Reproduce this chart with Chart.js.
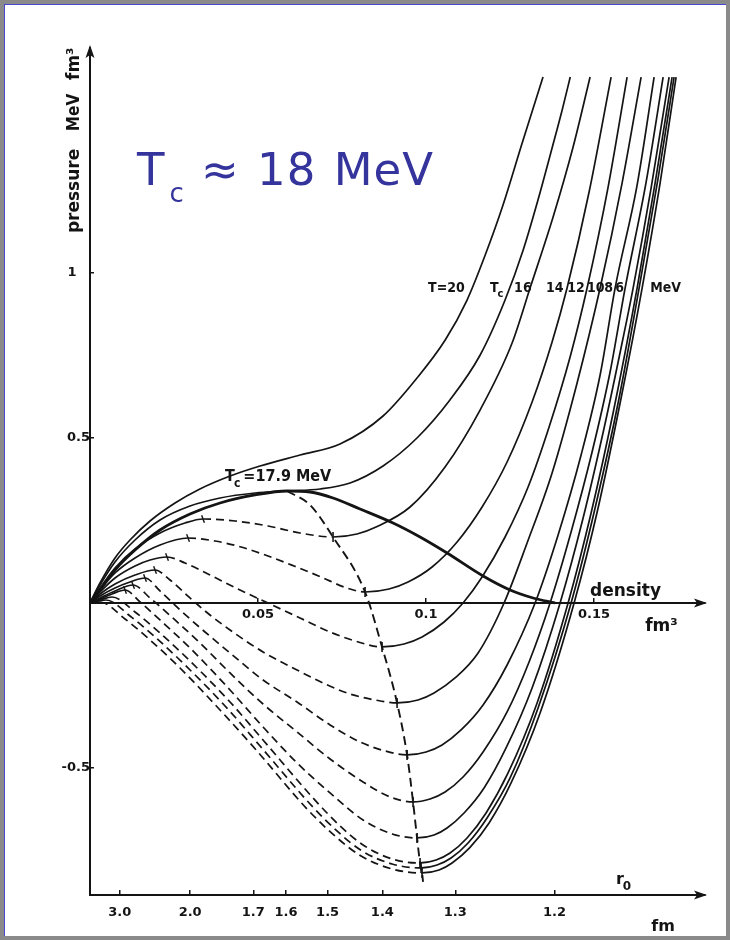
<!DOCTYPE html>
<html>
<head>
<meta charset="utf-8">
<title>Nuclear matter isotherms</title>
<script src="https://cdn.jsdelivr.net/npm/chart.js@4.4.1/dist/chart.umd.min.js"></script>
<style>
  html, body { margin: 0; padding: 0; background: #ffffff; }
  #frame { position: relative; width: 730px; height: 940px; background: #8a8a8a; overflow: hidden; }
  #sheet { position: absolute; left: 4px; top: 4px; width: 721px; height: 931px; background: #ffffff;
           border-left: 1px solid #4646d2; border-top: 1px solid #4646d2; }
  #plot { position: absolute; left: 0; top: 0; }
  #headline { position: absolute; left: 137px; top: 147px; font-family: "DejaVu Sans", Verdana, sans-serif;
              font-size: 45px; line-height: 45px; color: #34349c; white-space: nowrap;
              letter-spacing: 1px; word-spacing: 2px; }
  #headline .sub { font-size: 26px; position: relative; top: 17px; margin-left: 4px; letter-spacing: 0; }
</style>
</head>
<body>
<div id="frame">
  <div id="sheet"></div>
  <canvas id="plot" width="730" height="940"></canvas>
  <div id="headline">T<span class="sub">c</span> ≈ 18 MeV</div>
</div>
<script>
// ---- axis ticks -------------------------------------------------------
const densityTicks = [0.05, 0.1, 0.15];
const densityTickText = ['0.05', '0.1', '0.15'];
const pressureTicks = [-0.5, 0.5, 1];
const pressureTickText = ['-0.5', '0.5', '1   '];
// secondary scale: mean interparticle radius r0 (fm) at the matching density
const r0Labels = ['3.0', '2.0', '1.7', '1.6', '1.5', '1.4', '1.3', '1.2'];
const r0Density = [0.00884, 0.0298, 0.0486, 0.0583, 0.0707, 0.0870, 0.1087, 0.1382];

// ---- isotherms: [density fm^-3, pressure MeV fm^-3] --------------------
const isoTemps = [20, 17.9, 16, 14, 12, 10, 8, 6, 4, 2, 1, 0];

const iso20 = [[0,0],[0.00298,0.0606],[0.00744,0.1364],[0.0119,0.1909],[0.01786,0.2485],[0.0253,0.3030],
  [0.0327,0.3455],[0.0417,0.3848],[0.0506,0.4152],[0.0625,0.4485],[0.0744,0.4818],[0.0872,0.5667],
  [0.0973,0.6818],[0.1057,0.7970],[0.1122,0.9182],[0.1176,1.0545],[0.1229,1.2061],[0.1286,1.3939],[0.1348,1.5939]];

const isoTc = [[0,0],[0.00298,0.0545],[0.00744,0.1242],[0.01339,0.1909],[0.02083,0.2515],[0.02976,0.2939],
  [0.03869,0.3182],[0.04911,0.3333],[0.05863,0.3394],[0.06845,0.3455],[0.07738,0.3636],[0.0872,0.4152],
  [0.0973,0.5],[0.1071,0.6152],[0.1161,0.7515],[0.12351,0.9182],[0.1289,1.0697],[0.1333,1.2212],
  [0.1375,1.3788],[0.1405,1.4939],[0.1429,1.5939]];

const iso16 = [[0,0],[0.00298,0.0455],[0.00744,0.1061],[0.01339,0.1636],[0.02083,0.2121],[0.02827,0.2424],
  [0.03363,0.2545],[0.04315,0.2485],[0.05298,0.2333],[0.0625,0.2121],[0.07232,0.2],
  [0.07946,0.2091],[0.08512,0.2303],[0.09524,0.2909],[0.10565,0.4121],[0.11607,0.5848],[0.1256,0.7879],
  [0.13095,0.9545],[0.1378,1.1697],[0.14375,1.3818],[0.14881,1.5939]];

const iso14 = [[0,0],[0.00298,0.0394],[0.00744,0.0909],[0.01339,0.1364],[0.02083,0.1758],[0.02917,0.1970],
  [0.0372,0.1879],[0.04494,0.1697],[0.05298,0.1424],[0.06071,0.1121],[0.06875,0.0788],[0.0756,0.0485],
  [0.08185,0.0333],[0.08899,0.0424],[0.09464,0.0636],[0.10179,0.1091],[0.10923,0.1848],[0.11667,0.2909],
  [0.12411,0.4273],[0.13155,0.6091],[0.1375,0.7909],[0.14196,0.9545],[0.14851,1.2455],[0.15506,1.5939]];

const iso12 = [[0,0],[0.00298,0.0333],[0.00744,0.0758],[0.01339,0.1121],[0.01786,0.1303],[0.02292,0.1394],
  [0.02827,0.1212],[0.03571,0.0848],[0.04464,0.0394],[0.05357,-0.003],[0.0625,-0.0455],[0.07143,-0.0879],
  [0.07887,-0.1152],[0.0869,-0.1333],[0.09345,-0.1242],[0.09881,-0.1030],[0.10536,-0.0576],[0.11101,0],
  [0.11667,0.0788],[0.12351,0.2],[0.13036,0.3515],[0.13661,0.5333],[0.14286,0.7455],[0.14792,0.9545],
  [0.15417,1.2606],[0.15982,1.5939]];

const iso10 = [[0,0],[0.00298,0.0273],[0.00744,0.0576],[0.01339,0.0848],[0.01935,0.1],
  [0.02381,0.0697],[0.02976,0.0152],[0.03571,-0.0364],[0.04167,-0.0818],[0.05149,-0.1485],[0.06161,-0.2030],
  [0.06994,-0.2455],[0.07738,-0.2758],[0.08482,-0.2939],[0.09137,-0.3030],
  [0.09762,-0.2939],[0.10238,-0.2727],[0.10863,-0.2273],[0.11548,-0.1515],[0.12321,0],[0.13006,0.1818],
  [0.1375,0.3939],[0.14494,0.6667],[0.15179,0.9545],[0.15833,1.2727],[0.16399,1.5939]];

const iso8 = [[0,0],[0.00298,0.0212],[0.00744,0.0455],[0.0119,0.0636],[0.01637,0.0758],
  [0.02083,0.0364],[0.02679,-0.0212],[0.03423,-0.0879],[0.04167,-0.1515],[0.05149,-0.2333],[0.06161,-0.3],
  [0.07143,-0.3697],[0.08036,-0.4212],[0.0878,-0.4485],[0.09435,-0.4606],
  [0.1,-0.4515],[0.10476,-0.4303],[0.11042,-0.3848],[0.11696,-0.3091],[0.12411,-0.1879],[0.13244,0],
  [0.13929,0.2061],[0.14613,0.4485],[0.15179,0.6909],[0.15625,0.9545],[0.1628,1.2667],[0.16786,1.5939]];

const iso6 = [[0,0],[0.00298,0.0152],[0.00744,0.0364],[0.0128,0.0545],
  [0.01786,0.0152],[0.0253,-0.0515],[0.03274,-0.1212],[0.04167,-0.2121],[0.05149,-0.3061],[0.06161,-0.3909],
  [0.07143,-0.4727],[0.08125,-0.5424],[0.08929,-0.5879],[0.09613,-0.6030],
  [0.10119,-0.5939],[0.10565,-0.5727],[0.11101,-0.5273],[0.11696,-0.4515],[0.12411,-0.3303],[0.13065,-0.1788],
  [0.1369,0],[0.14315,0.2152],[0.1494,0.4576],[0.15476,0.7],[0.15923,0.9545],[0.16548,1.2758],[0.17054,1.5939]];

const iso4 = [[0,0],[0.00298,0.0121],[0.00655,0.0273],[0.01042,0.0394],
  [0.01488,0.003],[0.02083,-0.0515],[0.02976,-0.1364],[0.04167,-0.2636],[0.05149,-0.3758],[0.06161,-0.4848],
  [0.07143,-0.5758],[0.08125,-0.6576],[0.08988,-0.7],[0.09732,-0.7121],
  [0.10238,-0.7030],[0.10625,-0.6818],[0.11131,-0.6364],[0.11726,-0.5606],[0.12381,-0.4394],[0.13155,-0.2576],
  [0.13988,0],[0.14673,0.2576],[0.15298,0.5303],[0.15863,0.8030],[0.16161,0.9545],[0.16696,1.2576],[0.17232,1.5939]];

const iso2 = [[0,0],[0.00298,0.0091],[0.00655,0.0182],
  [0.01339,-0.0273],[0.02083,-0.0909],[0.02976,-0.1758],[0.04167,-0.3],[0.05149,-0.4152],[0.06637,-0.5909],
  [0.0744,-0.6758],[0.08125,-0.7333],[0.08988,-0.7758],[0.09821,-0.7879],
  [0.10298,-0.7788],[0.10714,-0.7576],[0.1122,-0.7121],[0.11786,-0.6364],[0.1244,-0.5152],[0.13304,-0.3030],
  [0.14226,0],[0.14911,0.2727],[0.15565,0.5758],[0.1628,0.9545],[0.16815,1.2727],[0.17321,1.5939]];

const iso1 = [[0,0],[0.00476,0.0091],
  [0.0119,-0.0394],[0.01935,-0.1030],[0.02827,-0.1879],[0.04018,-0.3121],[0.0506,-0.4333],[0.06548,-0.6091],
  [0.07381,-0.6939],[0.08095,-0.7515],[0.08988,-0.7909],[0.09851,-0.8030],
  [0.10327,-0.7939],[0.10744,-0.7727],[0.1125,-0.7273],[0.11815,-0.6515],[0.125,-0.5303],[0.13333,-0.3182],
  [0.14315,0],[0.1503,0.2879],[0.15744,0.6212],[0.16339,0.9545],[0.16905,1.2879],[0.1738,1.5939]];

const iso0 = [[0,0],[0.00298,0.003],
  [0.01042,-0.0485],[0.01786,-0.1121],[0.02679,-0.1970],[0.03869,-0.3242],[0.0497,-0.4485],[0.06458,-0.6242],
  [0.07321,-0.7091],[0.08065,-0.7667],[0.08988,-0.8061],[0.09881,-0.8182],
  [0.10387,-0.8091],[0.10774,-0.7879],[0.11295,-0.7424],[0.11875,-0.6667],[0.1253,-0.5455],[0.13393,-0.3333],
  [0.14405,0],[0.15119,0.2879],[0.15804,0.6212],[0.16429,0.9545],[0.16964,1.2727],[0.1744,1.5939]];

// unstable part of each isotherm: from its local maximum to its local minimum
const loopFrom = [null, null, 0.03363, 0.02917, 0.02292, 0.01935, 0.01637, 0.0128, 0.01042, 0.00655, 0.00476, 0.00298];
const loopTo   = [null, null, 0.07232, 0.08185, 0.0869, 0.09137, 0.09435, 0.09613, 0.09732, 0.09821, 0.09851, 0.09881];

// liquid-gas coexistence boundary
const coexistence = [[0,0],[0.00298,0.0394],[0.00744,0.1],[0.01339,0.1606],[0.02083,0.2212],[0.02976,0.2697],
  [0.03869,0.3030],[0.04911,0.3273],[0.05863,0.3394],[0.06548,0.3364],[0.07232,0.3182],[0.08036,0.2848],
  [0.09018,0.2424],[0.09821,0.2],[0.10625,0.1515],[0.11696,0.0818],[0.125,0.0394],[0.13185,0.0152],[0.13839,0]];

// spinodal through the isotherm minima
const spinodal = [[0.05863,0.3394],[0.06548,0.297],[0.07232,0.2],[0.08185,0.0333],[0.0869,-0.1333],
  [0.09137,-0.3030],[0.09435,-0.4606],[0.09613,-0.6030],[0.09732,-0.7121],[0.09821,-0.7879],
  [0.09851,-0.8030],[0.09881,-0.8182],[0.0991,-0.845]];

const isotherms = [iso20, isoTc, iso16, iso14, iso12, iso10, iso8, iso6, iso4, iso2, iso1, iso0];

// ---- styling ----------------------------------------------------------
const INK = '#141414';
const NUM_FONT = '"DejaVu Sans", "Liberation Sans", sans-serif';
const LABEL_FONT = '"DejaVu Sans Condensed", "Liberation Sans Narrow", "DejaVu Sans", sans-serif';
const DASH = [8, 5];

const toXY = pts => pts.map(([x, y]) => ({ x, y }));

const datasets = isotherms.map((pts, i) => {
  const lo = loopFrom[i], hi = loopTo[i];
  return {
    label: 'T = ' + isoTemps[i] + ' MeV',
    data: toXY(pts),
    borderColor: INK,
    borderWidth: 1.7,
    pointRadius: 0,
    cubicInterpolationMode: 'monotone',
    segment: {
      borderDash: ctx => (lo !== null && ctx.p0.parsed.x >= lo - 1e-9 && ctx.p1.parsed.x <= hi + 1e-9) ? DASH : undefined
    }
  };
});

datasets.push({
  label: 'coexistence',
  data: toXY(coexistence),
  borderColor: INK,
  borderWidth: 2.8,
  pointRadius: 0,
  cubicInterpolationMode: 'monotone'
});

datasets.push({
  label: 'spinodal',
  data: toXY(spinodal),
  borderColor: INK,
  borderWidth: 1.9,
  borderDash: [9, 5],
  cubicInterpolationMode: 'monotone',
  pointStyle: 'line',
  rotation: 90,
  pointBorderColor: INK,
  pointBorderWidth: 1.6,
  pointRadius: spinodal.map((p, i) => (i === 0 || i === 1 || i === spinodal.length - 1) ? 0 : 5)
});

// small cross marks at the local maxima of the sub-critical isotherms
const maxMarks = isotherms.map((pts, i) => loopFrom[i] === null ? null : pts.find(p => Math.abs(p[0] - loopFrom[i]) < 1e-9))
  .filter(p => p && p[1] > 0.02);
datasets.push({
  label: 'maxima',
  type: 'scatter',
  data: toXY(maxMarks),
  pointStyle: 'line',
  rotation: 70,
  pointRadius: 4,
  pointBorderColor: INK,
  pointBorderWidth: 1.4,
  showLine: false
});

// ---- annotation text placed in data coordinates ----------------------
const tempLabelText = ['T=20', 'Tc', '16', '14', '12', '10', '8', '6', 'MeV'];
const tempLabelAt = { x: [0.1006, 0.1190, 0.1262, 0.1357, 0.1420, 0.1479, 0.1530, 0.1563, 0.1667], y: 0.9424 };
const criticalLabelAt = { x: 0.0402, y: 0.3697 };

function subscripted(ctx, x, y, main, sub, tail, size, family) {
  ctx.font = 'bold ' + size + 'px ' + family;
  ctx.fillText(main, x, y);
  let w = ctx.measureText(main).width;
  ctx.font = 'bold ' + Math.round(size * 0.75) + 'px ' + family;
  ctx.fillText(sub, x + w - 1, y + size * 0.35);
  w += ctx.measureText(sub).width;
  ctx.font = 'bold ' + size + 'px ' + family;
  if (tail) ctx.fillText(tail, x + w + 2, y);
}

function arrowHead(ctx, tipX, tipY, dir) {
  const len = 13, half = 4.5;
  ctx.beginPath();
  if (dir === 'right') {
    ctx.moveTo(tipX, tipY); ctx.lineTo(tipX - len, tipY - half); ctx.lineTo(tipX - len + 3, tipY); ctx.lineTo(tipX - len, tipY + half);
  } else {
    ctx.moveTo(tipX, tipY); ctx.lineTo(tipX - half, tipY + len); ctx.lineTo(tipX, tipY + len - 3); ctx.lineTo(tipX + half, tipY + len);
  }
  ctx.closePath();
  ctx.fill();
}

const annotations = {
  id: 'annotations',
  afterDraw(chart) {
    const { ctx } = chart;
    const x = chart.scales.x, y = chart.scales.y, r0 = chart.scales.r0;
    ctx.save();
    ctx.fillStyle = INK;
    ctx.strokeStyle = INK;

    // axis arrows
    arrowHead(ctx, x.right + 2, y.getPixelForValue(0), 'right');
    arrowHead(ctx, r0.right + 2, y.bottom, 'right');
    arrowHead(ctx, x.getPixelForValue(0), y.top - 3, 'up');

    // axis names
    ctx.textBaseline = 'alphabetic';
    ctx.textAlign = 'left';
    ctx.font = 'bold 17px ' + NUM_FONT;
    ctx.fillText('density', x.getPixelForValue(0.1488), y.getPixelForValue(0.021));
    ctx.fillText('fm³', x.getPixelForValue(0.1652), y.getPixelForValue(-0.085));
    ctx.font = 'bold 16px ' + NUM_FONT;
    ctx.fillText('fm', x.getPixelForValue(0.1670), y.bottom + 36);
    subscripted(ctx, x.getPixelForValue(0.1565), y.bottom - 11, 'r', '0', '', 16, NUM_FONT);

    // vertical axis name, reading upwards
    ctx.save();
    ctx.translate(x.getPixelForValue(0) - 11, 0);
    ctx.rotate(-Math.PI / 2);
    ctx.font = 'bold 17px ' + NUM_FONT;
    ctx.fillText('pressure', -y.getPixelForValue(1.121), 0);
    ctx.font = 'bold 17px ' + LABEL_FONT;
    ctx.fillText('MeV', -y.getPixelForValue(1.43), 0);
    ctx.font = 'bold 17px ' + NUM_FONT;
    ctx.fillText('fm³', -y.getPixelForValue(1.585), 0);
    ctx.restore();

    // isotherm temperatures
    tempLabelText.forEach((t, i) => {
      const px = x.getPixelForValue(tempLabelAt.x[i]);
      const py = y.getPixelForValue(tempLabelAt.y);
      if (t === 'Tc') subscripted(ctx, px, py, 'T', 'c', '', 14, LABEL_FONT);
      else { ctx.font = 'bold 14px ' + LABEL_FONT; ctx.fillText(t, px, py); }
    });

    // critical temperature
    subscripted(ctx, x.getPixelForValue(criticalLabelAt.x), y.getPixelForValue(criticalLabelAt.y), 'T', 'c', '=17.9 MeV', 16, LABEL_FONT);
    ctx.restore();
  }
};

const tickFont = { family: NUM_FONT, size: 13, weight: 'bold' };

new Chart(document.getElementById('plot'), {
  type: 'line',
  data: { datasets },
  options: {
    responsive: false,
    animation: false,
    devicePixelRatio: 1,
    layout: { padding: { left: 90, right: 25, top: 48, bottom: 45 } },
    plugins: { legend: { display: false }, tooltip: { enabled: false } },
    scales: {
      x: {
        type: 'linear', min: 0, max: 0.183, position: { y: 0 },
        grid: { display: true, drawOnChartArea: false, drawTicks: true, tickLength: -6, color: INK, lineWidth: 1.5 },
        border: { display: true, color: INK, width: 2 },
        afterBuildTicks: s => { s.ticks = densityTicks.map(v => ({ value: v })); },
        ticks: { color: INK, padding: 10, maxRotation: 0, font: tickFont,
                 callback: v => densityTickText[densityTicks.indexOf(v)] }
      },
      r0: {
        type: 'linear', axis: 'x', min: 0, max: 0.183, position: { y: -0.885 },
        grid: { display: true, drawOnChartArea: false, drawTicks: true, tickLength: -6, color: INK, lineWidth: 1.5 },
        border: { display: true, color: INK, width: 2 },
        afterBuildTicks: s => { s.ticks = r0Density.map(v => ({ value: v })); },
        ticks: { color: INK, padding: 16, maxRotation: 0, autoSkip: false, font: tickFont,
                 callback: v => r0Labels[r0Density.indexOf(v)] }
      },
      y: {
        type: 'linear', min: -0.885, max: 1.682, position: { x: 0 },
        grid: { display: true, drawOnChartArea: false, drawTicks: true, tickLength: -5, color: INK, lineWidth: 1.5 },
        border: { display: true, color: INK, width: 2 },
        afterBuildTicks: s => { s.ticks = pressureTicks.map(v => ({ value: v })); },
        ticks: { color: INK, padding: 8, font: tickFont,
                 callback: v => pressureTickText[pressureTicks.indexOf(v)] }
      }
    }
  },
  plugins: [annotations]
});
</script>
</body>
</html>
